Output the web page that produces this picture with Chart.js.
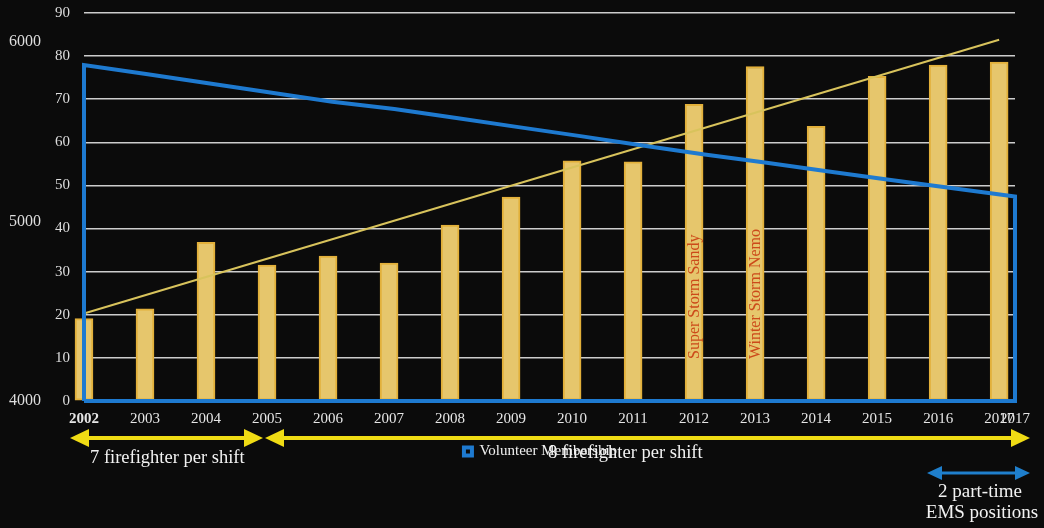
<!DOCTYPE html>
<html><head><meta charset="utf-8">
<script src="https://cdn.jsdelivr.net/npm/chart.js@4.4.1/dist/chart.umd.min.js"></script>
<style>html,body{margin:0;padding:0;background:#0a0a0a;overflow:hidden}#wrap{width:1044px;height:528px}</style>
</head><body><div id="wrap"><canvas id="c" width="1044" height="528"></canvas></div>
<script>
// ---- data ----
const years = [2002,2003,2004,2005,2006,2007,2008,2009,2010,2011,2012,2013,2014,2015,2016,2017];
const callValues = [19.1,21.4,36.8,31.5,33.6,32.0,40.8,47.3,55.7,55.5,68.8,77.6,63.7,75.3,77.9,78.6];
const trendYears = [2002, 2017];
const trendValues = [20.3, 83.8];
const membershipYears = [2002,2003,2004,2005,2006,2007,2008,2009,2010,2011,2012,2013,2014,2015,2016,2017];
const membershipValues = [5872,5822,5771,5719,5668,5627,5577,5526,5476,5424,5374,5327,5279,5232,5185,5139];
const membershipTicks = [4000,5000,6000];
const callTicks = [0,10,20,30,40,50,60,70,80,90];
const storms = [{year:2012, text:'Super Storm Sandy'},{year:2013, text:'Winter Storm Nemo'}];
const membershipLabel = 'Volunteer Membership';

const SERIF = '"Liberation Serif","DejaVu Serif",serif';
const memBase = membershipTicks[0];

const memPoints = [{x: membershipYears[0], y: memBase}]
  .concat(membershipYears.map((x,i)=>({x, y: membershipValues[i]})))
  .concat([{x: membershipYears[membershipYears.length-1], y: memBase}, {x: membershipYears[0], y: memBase}]);

const bgPlugin = {
  id:'bg',
  beforeDraw(chart){const c=chart.ctx;c.save();c.fillStyle='#0b0b0b';c.fillRect(0,0,chart.width,chart.height);c.restore();}
};

const stormPlugin = {
  id:'storms',
  afterDatasetsDraw(chart){
    const c=chart.ctx, xs=chart.scales.x, ys=chart.scales.y;
    c.save();
    c.font='16px '+SERIF; c.fillStyle='#cc4a1a'; c.textAlign='left'; c.textBaseline='middle';
    storms.forEach(s=>{
      c.save();
      c.translate(xs.getPixelForValue(s.year)+1, ys.getPixelForValue(0)-42);
      c.rotate(-Math.PI/2);
      c.fillText(s.text,0,0);
      c.restore();
    });
    c.restore();
  }
};

function dblArrow(c,x1,x2,y,color,lw,hl,hh){
  c.save();
  c.strokeStyle=color;c.fillStyle=color;c.lineWidth=lw;
  c.beginPath();c.moveTo(x1+hl-2,y);c.lineTo(x2-hl+2,y);c.stroke();
  c.beginPath();c.moveTo(x1,y);c.lineTo(x1+hl,y-hh);c.lineTo(x1+hl,y+hh);c.closePath();c.fill();
  c.beginPath();c.moveTo(x2,y);c.lineTo(x2-hl,y-hh);c.lineTo(x2-hl,y+hh);c.closePath();c.fill();
  c.restore();
}

const annoPlugin = {
  id:'anno',
  afterDraw(chart){
    const c=chart.ctx;
    dblArrow(c,70,263,438,'#f0dc14',4,19,9);
    dblArrow(c,265,1030,438,'#f0dc14',4,19,9);
    dblArrow(c,927,1030,473,'#1f7fcc',3,15,7);
    c.save();
    c.fillStyle='#f2f2f2';c.textBaseline='middle';
    c.font='18.5px '+SERIF;c.textAlign='left';
    c.fillText('7 firefighter per shift',90,458);
    c.fillText('8 firefighter per shift',548,453);
    c.font='19px '+SERIF;c.textAlign='center';
    c.fillText('2 part-time',980,492);
    c.fillText('EMS positions',982,513);
    c.restore();
  }
};

const legendShift = {
  id:'legendShift',
  afterLayout(chart){ if(chart.legend){chart.legend.left+=33;chart.legend.right+=33;} }
};

new Chart(document.getElementById('c'),{
  type:'line',
  data:{
    datasets:[
      {type:'line', label:membershipLabel, data:memPoints, xAxisID:'x2', yAxisID:'yv',
       borderColor:'#1e7ad0', backgroundColor:'rgba(0,0,0,0)', borderWidth:4, pointRadius:0,
       tension:0, fill:false, order:1, clip:false},
      {type:'line', label:'Trend', data:trendYears.map((x,i)=>({x,y:trendValues[i]})), xAxisID:'x', yAxisID:'y',
       borderColor:'#d8c35c', borderWidth:2, pointRadius:0, tension:0, fill:false, order:2, clip:false},
      {type:'bar', label:'Calls', data:years.map((x,i)=>({x,y:callValues[i]})), xAxisID:'x', yAxisID:'y',
       backgroundColor:'#e6c66c', borderColor:'#e2b03a', borderWidth:2, borderSkipped:false,
       barThickness:18, grouped:false, order:3, clip:false}
    ]
  },
  options:{
    responsive:false, animation:false, devicePixelRatio:1,
    layout:{padding:{left:0,right:29,top:13,bottom:59}},
    plugins:{
      legend:{display:true, position:'bottom', align:'center',
        labels:{color:'#f0f0f0', font:{family:SERIF,size:15}, boxWidth:8, boxHeight:8, padding:4,
          filter:(item)=>item.text===membershipLabel}},
      tooltip:{enabled:false}
    },
    scales:{
      x:{type:'linear', position:'bottom', min:years[0], max:2017.26, offset:false,
        grid:{display:false, drawTicks:false}, border:{display:false},
        afterBuildTicks:(s)=>{s.ticks = years.map(v=>({value:v})).concat([{value:s.max}]);},
        afterFit:(s)=>{s.height=39;s.paddingLeft=0;s.paddingRight=0;},
        ticks:{autoSkip:false, maxRotation:0, padding:9, color:'#e6e6e6',
          font:(ctx)=>({family:SERIF,size:15,weight:ctx.index===0?'bold':'normal'}),
          callback:(v,i,t)=> i===t.length-1 ? String(membershipYears[membershipYears.length-1]) : String(v)}},
      x2:{type:'linear', display:false, offset:false, min:membershipYears[0], max:membershipYears[membershipYears.length-1]},
      y:{type:'linear', position:'left', weight:0, min:0, max:90,
        afterBuildTicks:(s)=>{s.ticks = callTicks.map(v=>({value:v}));},
        afterFit:(s)=>{s.width=39;s.paddingTop=0;s.paddingBottom=0;},
        grid:{color:'rgba(232,232,232,0.88)', lineWidth:1.5, drawTicks:false},
        border:{display:false},
        ticks:{padding:14, color:'#dedede', font:{family:SERIF,size:15}}},
      yv:{type:'linear', position:'left', weight:1, min:memBase, max:6162,
        afterBuildTicks:(s)=>{s.ticks = membershipTicks.map(v=>({value:v}));},
        afterFit:(s)=>{s.width=45;s.paddingTop=0;s.paddingBottom=0;},
        grid:{display:false, drawTicks:false}, border:{display:false},
        ticks:{padding:4, color:'#dedede', font:{family:SERIF,size:16}, callback:(v)=>String(v)}}
    }
  },
  plugins:[bgPlugin, stormPlugin, annoPlugin, legendShift]
});
</script></body></html>
